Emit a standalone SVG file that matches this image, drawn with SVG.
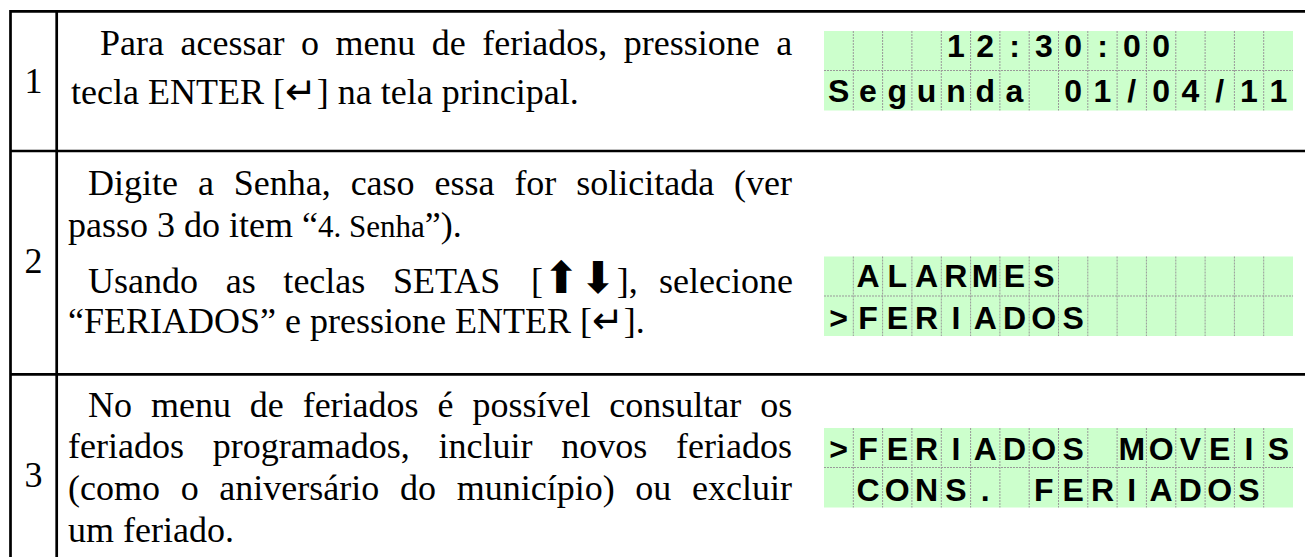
<svg xmlns="http://www.w3.org/2000/svg" xmlns:xlink="http://www.w3.org/1999/xlink" width="1305" height="557" viewBox="0 0 1305 557">
<style>
.rule{stroke:#000;stroke-width:2.7;fill:none}
.body{font-family:"Liberation Serif","Times New Roman",serif;font-size:36px;fill:#000}
.num{font-family:"Liberation Serif","Times New Roman",serif;font-size:36px;fill:#000;text-anchor:middle}
.ret{font-family:"DejaVu Sans",sans-serif;font-size:38px}
.arr{font-family:"DejaVu Sans",sans-serif;font-size:44px}
.small{font-size:31px}
.lcdbg{fill:#CCFFCC}
.cell{stroke:#999;stroke-width:1;stroke-dasharray:2 1;fill:none}
.lcd{font-family:"Liberation Sans",Arial,sans-serif;font-weight:bold;font-size:32px;fill:#000;text-anchor:middle}
</style>
<defs>
<g id="lcdframe">
<rect class="lcdbg" x="824" y="0" width="469" height="79.5"/>
<path class="cell" d="M824 39.5H1293M853.3 0V79.5M882.6 0V79.5M911.9 0V79.5M941.3 0V79.5M970.6 0V79.5M999.9 0V79.5M1029.2 0V79.5M1058.5 0V79.5M1087.8 0V79.5M1117.1 0V79.5M1146.4 0V79.5M1175.8 0V79.5M1205.1 0V79.5M1234.4 0V79.5M1263.7 0V79.5"/>
</g>
</defs>
<rect width="1305" height="557" fill="#fff"/>
<g id="grid">
<path class="rule" d="M10 11.3H1305M10 151H1305M10 374.3H1305M10.5 10V557M56.7 10V557"/>
</g>
<g id="row1">
<text class="num" x="33.5" y="93">1</text>
<text class="body" x="100" y="55" word-spacing="7.5">Para acessar o menu de feriados, pressione a</text>
<text class="body" x="71" y="104">tecla ENTER [<tspan class="ret">↵</tspan>] na tela principal.</text>
</g>
<g id="row2">
<text class="num" x="33.5" y="273">2</text>
<text class="body" x="88" y="195" word-spacing="10.9">Digite a Senha, caso essa for solicitada (ver</text>
<text class="body" x="68" y="237">passo 3 do item “<tspan class="small">4. Senha</tspan>”).</text>
<text class="body" x="88" y="293" word-spacing="18.7">Usando as teclas SETAS</text>
<text class="body" x="531" y="293">[<tspan class="arr">⬆⬇</tspan>],</text>
<text class="body" x="793" y="293" text-anchor="end">selecione</text>
<text class="body" x="68" y="333">“FERIADOS” e pressione ENTER [<tspan class="ret">↵</tspan>].</text>
</g>
<g id="row3">
<text class="num" x="33.5" y="487">3</text>
<text class="body" x="88" y="417" word-spacing="9.9">No menu de feriados é possível consultar os</text>
<text class="body" x="68" y="458" word-spacing="19.8">feriados programados, incluir novos feriados</text>
<text class="body" x="68" y="500" word-spacing="11.7">(como o aniversário do município) ou excluir</text>
<text class="body" x="68" y="542">um feriado.</text>
</g>
<g id="lcd1">
<use xlink:href="#lcdframe" y="31"/>
<text class="lcd" y="57" x="955.9 985.2 1014.5 1043.8 1073.2 1102.5 1131.8 1161.1">12:30:00</text>
<text class="lcd" y="102" x="838.7 868 897.3 926.6 955.9 985.2 1014.5">Segunda</text>
<text class="lcd" y="102" x="1073.2 1102.5 1131.8 1161.1 1190.4 1219.7 1249 1278.3">01/04/11</text>
</g>
<g id="lcd2">
<use xlink:href="#lcdframe" y="256.5"/>
<text class="lcd" y="287" x="868 897.3 926.6 955.9 985.2 1014.5 1043.8">ALARMES</text>
<text class="lcd" y="329" x="838.7 868 897.3 926.6 955.9 985.2 1014.5 1043.8 1073.2">&gt;FERIADOS</text>
</g>
<g id="lcd3">
<use xlink:href="#lcdframe" y="428"/>
<text class="lcd" y="460" x="838.7 868 897.3 926.6 955.9 985.2 1014.5 1043.8 1073.2">&gt;FERIADOS</text>
<text class="lcd" y="460" x="1131.8 1161.1 1190.4 1219.7 1249 1278.3">MOVEIS</text>
<text class="lcd" y="501" x="868 897.3 926.6 955.9 985.2">CONS.</text>
<text class="lcd" y="501" x="1043.8 1073.2 1102.5 1131.8 1161.1 1190.4 1219.7 1249">FERIADOS</text>
</g>
</svg>
